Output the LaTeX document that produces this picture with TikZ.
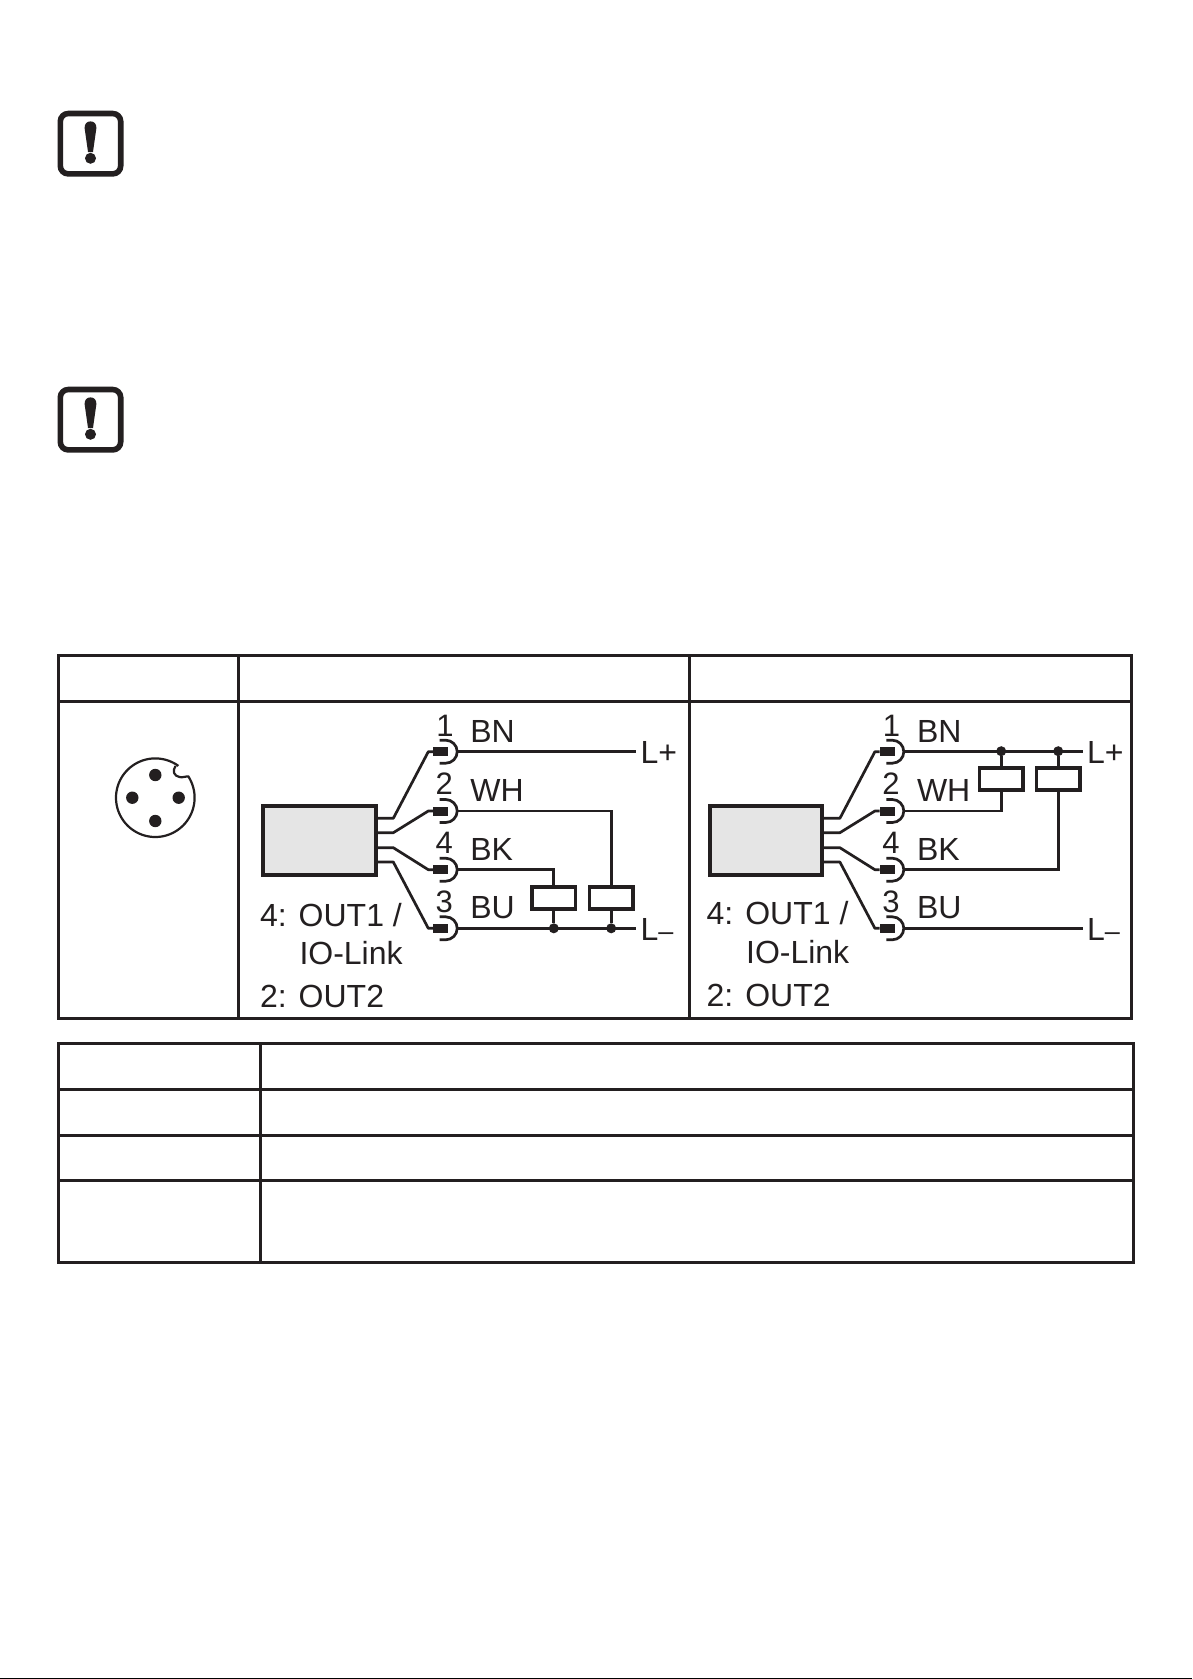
\documentclass[tikz,border=0pt]{standalone}
\usepackage{fontspec}
\setmainfont{Liberation Sans}
\definecolor{ink}{HTML}{231F20}
\tikzset{
  rule/.style={line width=3pt,draw=ink,line cap=rect},
  wire/.style={line width=2.7pt,draw=ink},
  lab/.style={anchor=base west,inner sep=0pt,outer sep=0pt,text=ink,font=\fontsize{32}{38}\selectfont},
  num/.style={anchor=base,inner sep=0pt,outer sep=0pt,text=ink,font=\fontsize{31}{37}\selectfont},
  unit/.style={draw=ink,line width=3.9pt,fill=black!10,minimum width=112.7pt,minimum height=69.3pt,inner sep=0pt},
  relay/.style={draw=ink,line width=3.5pt,fill=white,minimum width=43.7pt,minimum height=22pt,inner sep=0pt},
  pinblock/.style={fill=ink,inner sep=0pt,minimum width=15pt,minimum height=9pt},
  junction/.style={circle,fill=ink,inner sep=0pt,minimum size=10pt},
  contact/.style={circle,fill=ink,inner sep=0pt,minimum size=12.4pt},
  socket/.pic={
    \draw[line width=2.7pt,draw=ink] (-6,-11.5) -- (0,-11.5)
      .. controls (6.35,-11.5) and (11.5,-6.35) .. (11.5,0)
      .. controls (11.5,6.35) and (6.35,11.5) .. (0,11.5) -- (-6,11.5);
    \node[pinblock] (-pin) at (-5,0) {};
    \coordinate (-out) at (11.5,0);
  },
}
% #1 prefix, #2 text lift of the legend
\newcommand{\wiringbase}[2]{
  \node[unit] (#1unit) at (319.3,840.3) {};
  \pic (#1s1) at (445.7,751.7) {socket};
  \pic (#1s2) at (445.7,811) {socket};
  \pic (#1s4) at (445.7,869.7) {socket};
  \pic (#1s3) at (445.7,928.3) {socket};
  \foreach \yy/\n/\t in {818.3/1/751.7,832.7/2/811,847.7/4/869.7,862/3/928.3}{
    \coordinate (#1a\n) at (#1unit.east |- 0,\yy);
    \coordinate (#1b\n) at (393.3,\yy);
    \coordinate (#1c\n) at (428.3,\t);
    \draw[wire,line join=round] (#1a\n) -- (#1b\n) -- (#1c\n) -- (#1s\n-pin.west);
  }
  \node[num] (#1n1) at (445,736.6) {1};
  \node[num] (#1n2) at (444.3,794.6) {2};
  \node[num] (#1n4) at (444.3,853.3) {4};
  \node[num] (#1n3) at (444.3,912.3) {3};
  \node[lab] (#1BN) at (470.4,742) {BN};
  \node[lab] (#1WH) at (470.4,801) {WH};
  \node[lab] (#1BK) at (470.4,860) {BK};
  \node[lab] (#1BU) at (470.4,918) {BU};
  \node[lab] (#1Lp) at (640.5,763.5) {L+};
  \node[lab] (#1Lm) at (640.5,940) {L{\fontsize{27}{27}\selectfont –}};
  \node[lab] (#1k4) at (260,926-#2) {4:};
  \node[lab] (#1o1) at (298.7,926-#2) {OUT1 /};
  \node[lab] (#1io) at (299.5,964.6-#2) {IO-Link};
  \node[lab] (#1k2) at (260,1007.6-#2) {2:};
  \node[lab] (#1o2) at (298.7,1007.6-#2) {OUT2};
  \coordinate (#1Lpw) at (636,751.7);
  \coordinate (#1Lmw) at (636,928.3);
}
\newcommand{\warnsign}[2]{
  \begin{scope}[shift={(0,#1)}]
    \node[draw=ink,line width=5.6pt,rounded corners=8pt,minimum width=60.4pt,minimum height=60.4pt,inner sep=0pt] (#2box) at (90.5,143.7) {};
    \fill[ink] (84.6,128) .. controls (84.6,123.5) and (87,121.4) .. (90.5,121.4)
      .. controls (94,121.4) and (96.4,123.5) .. (96.4,128)
      -- (93,152) -- (88,152) -- cycle;
    \node[circle,fill=ink,inner sep=0pt,minimum size=11pt] (#2dot) at (90.5,158.3) {};
  \end{scope}
}
\begin{document}
\begin{tikzpicture}[x=1pt,y=-1pt]
\useasboundingbox (0,0) rectangle (1192,1679);
\fill[white] (0,0) rectangle (1192,1679);
\fill[black] (0,1678) rectangle (1192,1679);

% warnings
\warnsign{0}{wa}
\warnsign{276}{wb}

% upper table
\draw[rule] (58.3,655.5) rectangle (1131.7,1018.3);
\draw[rule] (58.3,701.7) -- (1131.7,701.7);
\draw[rule] (238.3,655.5) -- (238.3,1018.3);
\draw[rule] (689.3,655.5) -- (689.3,1018.3);

% lower table
\draw[rule] (58.3,1043.3) rectangle (1133.3,1262.3);
\draw[rule] (58.3,1089.3) -- (1133.3,1089.3);
\draw[rule] (58.3,1135.3) -- (1133.3,1135.3);
\draw[rule] (58.3,1180.7) -- (1133.3,1180.7);
\draw[rule] (260.3,1043.3) -- (260.3,1262.3);

% connector face
\draw[line width=2.2pt,draw=ink] plot[domain=54:392.8,samples=140] ({155.3+39.3*cos(\x)},{797.7-39.3*sin(\x)})
  .. controls (186.5,776) and (182,778) .. (179.5,777)
  .. controls (174,776) and (172,771) .. (175.5,766);
\node[contact] (p1) at (155.3,775) {};
\node[contact] (p2) at (155.3,821) {};
\node[contact] (p3) at (132.3,797.7) {};
\node[contact] (p4) at (178.7,797.7) {};

% left wiring
\wiringbase{a}{0}
\node[relay] (aR1) at (553.8,898) {};
\node[relay] (aR2) at (611.2,898) {};
\node[junction] (aJ1) at (553.8,928.3) {};
\node[junction] (aJ2) at (611.2,928.3) {};
\draw[wire] (as1-out) -- (aLpw);
\draw[wire] (as3-out) -- (aLmw);
\draw[wire] (as2-out) -| (aR2.north);
\draw[wire] (as4-out) -| (aR1.north);
\draw[wire] (aR1.south) -- (aJ1);
\draw[wire] (aR2.south) -- (aJ2);

% right wiring
\begin{scope}[shift={(446.6,0)}]
\wiringbase{b}{1.2}
\node[relay] (bR1) at (554.6,779) {};
\node[relay] (bR2) at (611.6,779) {};
\node[junction] (bJ1) at (554.6,751.2) {};
\node[junction] (bJ2) at (611.6,751.2) {};
\draw[wire] (bs1-out) -- (bLpw);
\draw[wire] (bs3-out) -- (bLmw);
\draw[wire] (bs2-out) -| (bR1.south);
\draw[wire] (bs4-out) -| (bR2.south);
\draw[wire] (bR1.north) -- (bJ1);
\draw[wire] (bR2.north) -- (bJ2);
\end{scope}
\end{tikzpicture}
\end{document}
